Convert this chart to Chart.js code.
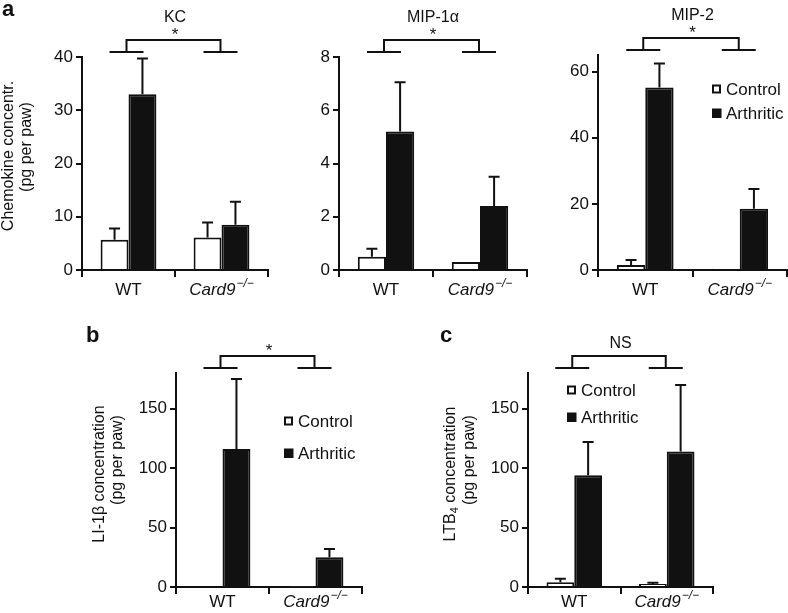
<!DOCTYPE html>
<html>
<head>
<meta charset="utf-8">
<script src="https://cdn.jsdelivr.net/npm/chart.js@4.4.1/dist/chart.umd.min.js"></script>
<style>
  html, body { margin: 0; padding: 0; background: #fff; }
  #fig { position: relative; width: 788px; height: 613px; overflow: hidden; background: #fff; }
  .panel { position: absolute; }
</style>
</head>
<body>
<div id="fig"></div>
<script>
// --- data
const groups = ['WT', 'Card9'];
const seriesNames = ['Control', 'Arthritic'];

const kcControl = [5.7, 6.1];
const kcControlSd = [2.1, 2.8];
const kcArthritic = [33.0, 8.5];
const kcArthriticSd = [6.7, 4.3];
const kcTicks = [0, 10, 20, 30, 40];

const mip1Control = [0.5, 0.3];
const mip1ControlSd = [0.3, 0];
const mip1Arthritic = [5.2, 2.4];
const mip1ArthriticSd = [1.85, 1.1];
const mip1Ticks = [0, 2, 4, 6, 8];

const mip2Control = [1.5, 0.4];
const mip2ControlSd = [1.5, 0];
const mip2Arthritic = [55.2, 18.5];
const mip2ArthriticSd = [7.2, 6.0];
const mip2Ticks = [0, 20, 40, 60];

const il1Control = [0.8, 0.6];
const il1ControlSd = [0, 0];
const il1Arthritic = [116, 25];
const il1ArthriticSd = [59, 7];
const il1Ticks = [0, 50, 100, 150];

const ltbControl = [4.0, 2.5];
const ltbControlSd = [3.0, 1.0];
const ltbArthritic = [94, 114];
const ltbArthriticSd = [28, 56];
const ltbTicks = [0, 50, 100, 150];

const FONT = "'Liberation Sans', Arial, Helvetica, sans-serif";
const INK = '#111';

// --- draws error bars, brackets, labels, legend
const figurePlugin = {
  id: 'figure',
  afterDatasetsDraw(chart, args, o) {
    const ctx = chart.ctx, xs = chart.scales.x, ys = chart.scales.y, a = chart.chartArea;
    const bx = o.box.left, by = o.box.top;
    ctx.save();
    ctx.strokeStyle = INK; ctx.fillStyle = INK; ctx.lineWidth = 2;

    // error bars (upper only)
    chart.data.datasets.forEach((ds, i) => {
      chart.getDatasetMeta(i).data.forEach((bar, j) => {
        const sd = ds.sd[j];
        if (!sd) return;
        const yt = ys.getPixelForValue(ds.data[j] + sd);
        ctx.beginPath();
        ctx.moveTo(bar.x, bar.y); ctx.lineTo(bar.x, yt);
        ctx.moveTo(bar.x - 5.5, yt); ctx.lineTo(bar.x + 5.5, yt);
        ctx.stroke();
      });
    });

    // significance bracket
    const c0 = xs.getPixelForValue(0) - 2, c1 = xs.getPixelForValue(1) - 1;
    const yb = a.top - 5, yt = a.top - 17;
    ctx.beginPath();
    ctx.moveTo(c0 - 17, yb); ctx.lineTo(c0 + 17, yb);
    ctx.moveTo(c1 - 17, yb); ctx.lineTo(c1 + 17, yb);
    ctx.moveTo(c0, yb); ctx.lineTo(c0, yt); ctx.lineTo(c1, yt); ctx.lineTo(c1, yb);
    ctx.stroke();

    const mid = (xs.getPixelForValue(0) + xs.getPixelForValue(1)) / 2;
    ctx.textAlign = 'center';
    if (o.sig === '*') {
      ctx.font = `17px ${FONT}`;
      ctx.textBaseline = 'alphabetic';
      ctx.fillText('*', mid, a.top - 27 + 10);
    } else {
      ctx.font = `16px ${FONT}`;
      ctx.textBaseline = 'middle';
      ctx.fillText(o.sig, mid, a.top - 29);
    }
    if (o.title) {
      ctx.font = `16px ${FONT}`;
      ctx.textBaseline = 'middle';
      ctx.fillText(o.title, mid, a.top - 39);
    }

    // category labels
    const ly = a.bottom + o.labelDy;
    ctx.textBaseline = 'middle';
    ctx.font = `17px ${FONT}`;
    ctx.fillText(groups[0], xs.getPixelForValue(0), ly);
    ctx.font = `italic 17px ${FONT}`;
    const w1 = ctx.measureText(groups[1]).width;
    ctx.font = `italic 12px ${FONT}`;
    const sup = '\u2212/\u2212';
    const w2 = ctx.measureText(sup).width;
    let sx = xs.getPixelForValue(1) - (w1 + w2 + 1) / 2;
    ctx.textAlign = 'left';
    ctx.font = `italic 17px ${FONT}`;
    ctx.fillText(groups[1], sx, ly);
    ctx.font = `italic 12px ${FONT}`;
    ctx.fillText(sup, sx + w1 + 1, ly - 6);

    // y title, two rotated lines
    o.yTitle.forEach(line => {
      ctx.save();
      ctx.translate(line.x - bx, line.y - by);
      ctx.rotate(-Math.PI / 2);
      ctx.textBaseline = 'middle';
      ctx.textAlign = 'left';
      const parts = line.parts;
      let total = 0;
      parts.forEach(p => { ctx.font = `${p.size}px ${FONT}`; p.w = ctx.measureText(p.t).width; total += p.w; });
      let px = -total / 2;
      parts.forEach(p => {
        ctx.font = `${p.size}px ${FONT}`;
        ctx.fillText(p.t, px, p.dy || 0);
        px += p.w;
      });
      ctx.restore();
    });

    // legend
    if (o.legend) {
      const L = o.legend;
      ctx.font = `17px ${FONT}`;
      ctx.textBaseline = 'middle';
      ctx.textAlign = 'left';
      seriesNames.forEach((name, i) => {
        const cy = L.y[i] - by, lx = L.x - bx;
        if (i === 0) {
          ctx.fillStyle = '#fff';
          ctx.fillRect(lx, cy - 4.5, 9, 9);
          ctx.lineWidth = 2;
          ctx.strokeRect(lx + 1, cy - 3.5, 7, 7);
        } else {
          ctx.fillStyle = INK;
          ctx.fillRect(lx, cy - 4.5, 9.5, 9.5);
        }
        ctx.fillStyle = INK;
        ctx.fillText(name, lx + 14, cy + 1);
      });
    }

    // panel letter
    if (o.letter) {
      ctx.font = `bold 22px ${FONT}`;
      ctx.textAlign = 'left';
      ctx.textBaseline = 'alphabetic';
      ctx.fillText(o.letter.t, o.letter.x - bx, o.letter.y - by);
    }
    ctx.restore();
  }
};

function makePanel(box, area, yMax, ticks, control, controlSd, arthritic, arthriticSd, extra) {
  const div = document.createElement('div');
  div.className = 'panel';
  div.style.left = box.left + 'px';
  div.style.top = box.top + 'px';
  const canvas = document.createElement('canvas');
  canvas.width = box.width; canvas.height = box.height;
  canvas.style.width = box.width + 'px'; canvas.style.height = box.height + 'px';
  div.appendChild(canvas);
  document.getElementById('fig').appendChild(div);

  const axisLine = { display: true, color: INK, width: 2 };
  new Chart(canvas, {
    type: 'bar',
    data: {
      labels: groups,
      datasets: [
        { label: seriesNames[0], data: control, sd: controlSd, backgroundColor: '#fff',
          borderColor: INK, borderWidth: 2, borderSkipped: 'bottom' },
        { label: seriesNames[1], data: arthritic, sd: arthriticSd, backgroundColor: INK,
          borderColor: INK, borderWidth: 2, borderSkipped: 'bottom' }
      ]
    },
    options: {
      responsive: false,
      devicePixelRatio: 1,
      animation: false,
      categoryPercentage: 0.6,
      barPercentage: 1.0,
      layout: { padding: {
        left: 0, bottom: 0,
        top: area.top - box.top,
        right: box.left + box.width - area.right
      } },
      scales: {
        x: {
          offset: true,
          grid: { display: true, offset: true, drawOnChartArea: false, drawTicks: true,
                  tickLength: 7, color: INK, lineWidth: 2 },
          border: axisLine,
          ticks: { display: false },
          afterFit: s => { s.height = box.top + box.height - area.zero; }
        },
        y: {
          min: 0, max: yMax,
          grid: { display: true, drawOnChartArea: false, drawTicks: true,
                  tickLength: 6, color: INK, lineWidth: 2 },
          border: axisLine,
          ticks: { color: INK, padding: 3, font: { family: FONT, size: 17 } },
          afterBuildTicks: s => { s.ticks = ticks.map(v => ({ value: v })); },
          afterFit: s => { s.width = area.left - box.left; }
        }
      },
      plugins: {
        legend: { display: false },
        tooltip: { enabled: false },
        figure: Object.assign({ box }, extra)
      }
    },
    plugins: [figurePlugin]
  });
}

const pgPerPaw = { t: '(pg per paw)', size: 16 };

makePanel({ left: 0, top: 0, width: 276, height: 300 },
  { left: 82, right: 268, top: 57, zero: 270 }, 40, kcTicks,
  kcControl, kcControlSd, kcArthritic, kcArthriticSd,
  { title: 'KC', sig: '*', labelDy: 20, letter: { t: 'a', x: 2, y: 16 },
    yTitle: [ { x: 9, y: 156, parts: [ { t: 'Chemokine concentr.', size: 16 } ] },
              { x: 27, y: 147, parts: [ pgPerPaw ] } ] });

makePanel({ left: 276, top: 0, width: 254, height: 300 },
  { left: 339, right: 527, top: 57, zero: 270 }, 8, mip1Ticks,
  mip1Control, mip1ControlSd, mip1Arthritic, mip1ArthriticSd,
  { title: 'MIP-1\u03b1', sig: '*', labelDy: 20, yTitle: [] });

makePanel({ left: 530, top: 0, width: 258, height: 300 },
  { left: 598, right: 787, top: 55, zero: 270 }, 65, mip2Ticks,
  mip2Control, mip2ControlSd, mip2Arthritic, mip2ArthriticSd,
  { title: 'MIP-2', sig: '*', labelDy: 20, yTitle: [],
    legend: { x: 712, y: [89, 113] } });

makePanel({ left: 0, top: 300, width: 390, height: 313 },
  { left: 176, right: 362, top: 373, zero: 587 }, 180, il1Ticks,
  il1Control, il1ControlSd, il1Arthritic, il1ArthriticSd,
  { sig: '*', labelDy: 15, letter: { t: 'b', x: 86, y: 342 },
    legend: { x: 284, y: [421, 453] },
    yTitle: [ { x: 100, y: 474, parts: [ { t: 'LI-1\u03b2 concentration', size: 16 } ] },
              { x: 118, y: 460, parts: [ pgPerPaw ] } ] });

makePanel({ left: 390, top: 300, width: 398, height: 313 },
  { left: 528, right: 713, top: 373, zero: 587 }, 180, ltbTicks,
  ltbControl, ltbControlSd, ltbArthritic, ltbArthriticSd,
  { sig: 'NS', labelDy: 15, letter: { t: 'c', x: 440, y: 342 },
    legend: { x: 567, y: [390, 417] },
    yTitle: [ { x: 451, y: 474, parts: [ { t: 'LTB', size: 16 }, { t: '4', size: 11, dy: 4 },
                                         { t: ' concentration', size: 16 } ] },
              { x: 470, y: 460, parts: [ pgPerPaw ] } ] });
</script>
</body>
</html>
